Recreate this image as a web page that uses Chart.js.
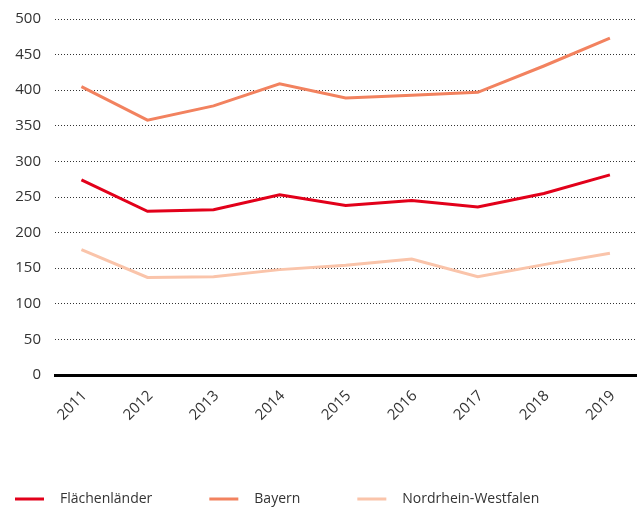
<!DOCTYPE html>
<html>
<head>
<meta charset="utf-8">
<script src="https://cdn.jsdelivr.net/npm/chart.js@4"></script>
<style>
  body { margin: 0; background: #fff; }
</style>
</head>
<body>
<canvas id="myChart" width="637" height="511"></canvas>
<script>
const years = [2011, 2012, 2013, 2014, 2015, 2016, 2017, 2018, 2019];
const flaechenlaender = [274, 230, 232, 253, 238, 245, 236, 255, 281];
const bayern = [405, 358, 378, 409, 389, 393, 397, 434, 473];
const nrw = [176, 137, 138, 148, 154, 163, 138, 155, 171];
const seriesNames = ["Flächenländer", "Bayern", "Nordrhein-Westfalen"];
const yTicks = [0, 50, 100, 150, 200, 250, 300, 350, 400, 450, 500];

const colors = ["#e2001a", "#f2825f", "#fac4aa"];
const font = "'Open Sans', 'Noto Sans', sans-serif";

function toPoints(values) {
  return values.map((v, i) => ({ x: years[i], y: v }));
}

// legend drawn by hand, left aligned under the chart
const bottomLegend = {
  id: "bottomLegend",
  afterDraw(chart) {
    const ctx = chart.ctx;
    ctx.save();
    ctx.font = "14px " + font;
    ctx.textBaseline = "middle";
    ctx.fillStyle = "#333";
    let x = 15;
    const y = 499;
    chart.data.datasets.forEach((ds) => {
      ctx.fillStyle = ds.borderColor;
      ctx.fillRect(x, y - 1.5, 29, 3);
      ctx.fillStyle = "#333";
      ctx.fillText(ds.label, x + 45, y);
      x += 45 + ctx.measureText(ds.label).width + 57;
    });
    ctx.restore();
  },
};

const ctx = document.getElementById("myChart");

new Chart(ctx, {
  type: "line",
  data: {
    datasets: [
      { label: seriesNames[0], data: toPoints(flaechenlaender), borderColor: colors[0] },
      { label: seriesNames[1], data: toPoints(bayern), borderColor: colors[1] },
      { label: seriesNames[2], data: toPoints(nrw), borderColor: colors[2] },
    ].map((d) => ({ ...d, backgroundColor: d.borderColor, borderWidth: 3, pointRadius: 0, tension: 0, fill: false })),
  },
  options: {
    responsive: false,
    animation: false,
    layout: { padding: { top: 19, right: 0, bottom: 36, left: 0 } },
    plugins: {
      legend: { display: false },
      tooltip: { enabled: false },
    },
    scales: {
      x: {
        type: "linear",
        min: 2010.6,
        max: 2019.41,
        afterBuildTicks: (scale) => {
          scale.ticks = years.map((v) => ({ value: v }));
        },
        afterFit: (scale) => {
          scale.height = 100;
          scale.paddingLeft = 0;
          scale.paddingRight = 0;
        },
        grid: { display: false, drawTicks: false },
        border: { display: true, color: "#000", width: 3 },
        ticks: {
          minRotation: 45,
          maxRotation: 45,
          padding: 12,
          labelOffset: 3,
          color: "#333",
          font: { family: font, size: 15 },
          callback: (v) => String(v),
        },
      },
      y: {
        min: 0,
        max: 500,
        afterBuildTicks: (scale) => {
          scale.ticks = yTicks.map((v) => ({ value: v }));
        },
        afterFit: (scale) => {
          scale.width = 55;
          scale.paddingTop = 0;
          scale.paddingBottom = 0;
        },
        border: { display: false, dash: [1, 2] },
        grid: { color: "#333", lineWidth: 1, drawTicks: false },
        ticks: {
          padding: 14,
          color: "#333",
          font: { family: font, size: 15 },
        },
      },
    },
  },
  plugins: [bottomLegend],
});
</script>
</body>
</html>
